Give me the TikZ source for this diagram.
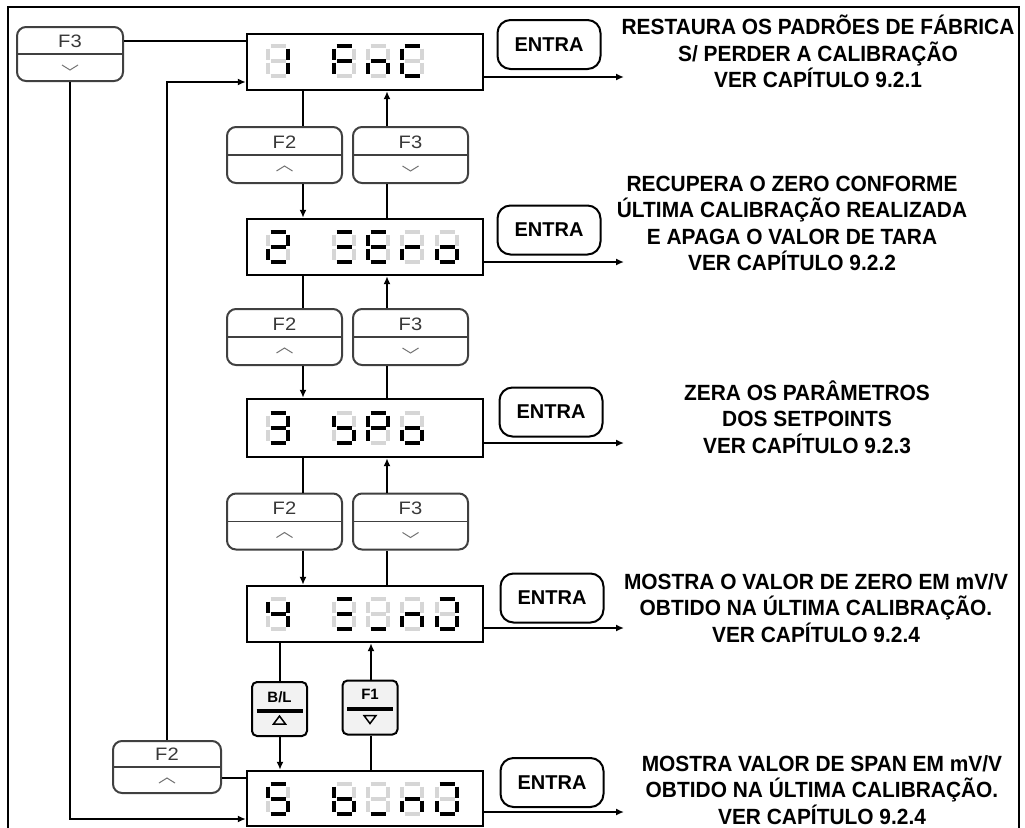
\documentclass[tikz,border=0pt]{standalone}
\usepackage{fontspec}
\setmainfont{Liberation Sans}
\newfontfamily\descfont[FakeStretch=0.95]{Liberation Sans}
\newfontfamily\labfont[FakeStretch=1.12]{Liberation Sans}
\usetikzlibrary{arrows.meta}
\tikzset{
  seg1/.style={draw=black,line width=3.2pt},
  seg0/.style={draw=black!16,line width=3.2pt},
  disp/.style={draw=black,line width=2.4pt,minimum width=236pt,minimum height=56pt,inner sep=0pt},
  fbtn/.style={draw=black!75,line width=2pt,rounded corners=9pt,minimum width=115pt,minimum height=56pt,inner sep=0pt},
  flab/.style={text=black!78,font=\labfont\fontsize{18}{18}\selectfont},
  chev/.style={draw=black!55,line width=1pt},
  kbtn/.style={draw=black,line width=2pt,rounded corners=5pt,fill=black!5,minimum width=55pt,minimum height=54pt,inner sep=0pt},
  klab/.style={font=\fontsize{15}{15}\selectfont\bfseries},
  entra/.style={draw=black,line width=2pt,rounded corners=13pt,minimum width=103pt,minimum height=49pt,inner sep=0pt,font=\fontsize{20}{24}\selectfont\bfseries},
  desc/.style={align=center,inner sep=0pt,font=\descfont\fontsize{22}{26.5}\selectfont\bfseries},
  conn/.style={line width=2pt},
  arr/.style={line width=2pt,-{Latex[length=8pt,width=7pt]}}
}
% seven segment digit: x y a b c d e f g
\newcommand\segdig[9]{%
  \begin{scope}[shift={(#1,#2)}]
    \draw[seg#3] (3.5,0)--(18.5,0);
    \draw[seg#4] (21,2.5)--(21,13.5);
    \draw[seg#5] (21,16.5)--(21,27.5);
    \draw[seg#6] (3.5,30)--(18.5,30);
    \draw[seg#7] (1,16.5)--(1,27.5);
    \draw[seg#8] (1,2.5)--(1,13.5);
    \draw[seg#9] (3.5,15)--(18.5,15);
  \end{scope}}
% F button decoration: name, label, u/d
\newcommand\fbutton[3]{%
  \draw[line width=1.4pt,draw=black!75] (#1.west) -- (#1.east);
  \node[flab] at ([yshift=13pt]#1.center) {#2};
  \if u#3
    \draw[chev] ([shift={(-8,16)}]#1.center) -- ++(8,-5) -- ++(8,5);
  \else
    \draw[chev] ([shift={(-8,11)}]#1.center) -- ++(8,5) -- ++(8,-5);
  \fi}
\begin{document}
\begin{tikzpicture}[x=1pt,y=-1pt]
\useasboundingbox (0,0) rectangle (1025,827);
\fill[white] (0,0) rectangle (1025,827);
% frame
\draw[line width=1.6pt] (8,840) -- (8,7) -- (1019,7) -- (1019,840);

% helper coordinates
\coordinate (L) at (303,0);
\coordinate (R) at (387,0);
\coordinate (L2) at (280,0);
\coordinate (R2) at (371,0);
\coordinate (h41) at (0,41);
\coordinate (h82) at (0,82);
\coordinate (h778) at (0,778);
\coordinate (h819) at (0,819);

% displays
\node[disp] (d1) at (365,62) {};
\node[disp] (d2) at (365,247) {};
\node[disp,minimum height=58pt] (d3) at (365,428) {};
\node[disp] (d4) at (365,614) {};
\node[disp,minimum height=55pt] (d5) at (365,798.5) {};

% digits display 1: "1 FnC"
\segdig{267}{46}0110000
\segdig{333}{46}1000111
\segdig{367}{46}0010101
\segdig{401}{46}1001110
% display 2: "2 ZEro"
\segdig{267}{232}1101101
\segdig{333}{232}1001001
\segdig{367}{232}1001111
\segdig{401}{232}0000101
\segdig{436}{232}0011101
% display 3: "3 SPo"
\segdig{267}{413}1111001
\segdig{333}{413}0011011
\segdig{367}{413}1100111
\segdig{401}{413}0011101
% display 4
\segdig{267}{599}0110011
\segdig{333}{599}1001001
\segdig{367}{599}0001000
\segdig{401}{599}0010101
\segdig{436}{599}1111100
% display 5
\segdig{267}{784}1011011
\segdig{333}{784}0011111
\segdig{367}{784}0001000
\segdig{401}{784}0010101
\segdig{436}{784}1111100

% F2/F3 button pairs
\node[fbtn] (p1l) at (284.5,155) {};
\node[fbtn] (p1r) at (410.5,155) {};
\node[fbtn] (p2l) at (284.5,337) {};
\node[fbtn] (p2r) at (410.5,337) {};
\node[fbtn] (p3l) at (284.5,521.5) {};
\node[fbtn] (p3r) at (410.5,521.5) {};
\fbutton{p1l}{F2}{u}
\fbutton{p1r}{F3}{d}
\fbutton{p2l}{F2}{u}
\fbutton{p2r}{F3}{d}
\fbutton{p3l}{F2}{u}
\fbutton{p3r}{F3}{d}

% outer buttons
\node[fbtn,minimum width=106pt,minimum height=54pt] (F3t) at (70,54) {};
\fbutton{F3t}{F3}{d}
\node[fbtn,minimum width=108pt,minimum height=52pt] (F2b) at (167,767) {};
\fbutton{F2b}{F2}{u}

% B/L and F1 keys
\node[kbtn] (BL) at (279.5,709) {};
\node[klab] at ([yshift=12pt]BL.center) {B/L};
\draw[line width=3.2pt] ([shift={(-23,2)}]BL.center) -- ([shift={(23,2)}]BL.center);
\draw[line width=1.5pt,line join=miter] ([shift={(-6,15)}]BL.center) -- ([shift={(6,15)}]BL.center) -- ([shift={(0,7)}]BL.center) -- cycle;
\node[kbtn] (F1) at (370,707.5) {};
\node[klab] at ([yshift=13.5pt]F1.center) {F1};
\draw[line width=3.2pt] ([shift={(-23,1.5)}]F1.center) -- ([shift={(23,1.5)}]F1.center);
\draw[line width=1.5pt,line join=miter] ([shift={(-6,8)}]F1.center) -- ([shift={(6,8)}]F1.center) -- ([shift={(0,16)}]F1.center) -- cycle;

% ENTRA buttons
\node[entra] (e1) at (549,44.5) {ENTRA};
\node[entra] (e2) at (549,230) {ENTRA};
\node[entra] (e3) at (551,412) {ENTRA};
\node[entra] (e4) at (552,598) {ENTRA};
\node[entra] (e5) at (552,782.5) {ENTRA};

% outer connectors
\draw[conn] (F3t.east |- h41) -- (d1.west |- h41);
\draw[arr] (F3t.south) -- (F3t.south |- h819) -- (d5.west |- h819);
\draw[arr] (F2b.north) -- (F2b.north |- h82) -- (d1.west |- h82);
\draw[conn] (F2b.east |- h778) -- (d5.west |- h778);

% vertical connectors
\draw[conn] (d1.south -| L) -- (p1l.north -| L);
\draw[arr] (p1l.south -| L) -- (d2.north -| L);
\draw[arr] (p1r.north -| R) -- (d1.south -| R);
\draw[conn] (d2.north -| R) -- (p1r.south -| R);
\draw[conn] (d2.south -| L) -- (p2l.north -| L);
\draw[arr] (p2l.south -| L) -- (d3.north -| L);
\draw[arr] (p2r.north -| R) -- (d2.south -| R);
\draw[conn] (d3.north -| R) -- (p2r.south -| R);
\draw[conn] (d3.south -| L) -- (p3l.north -| L);
\draw[arr] (p3l.south -| L) -- (d4.north -| L);
\draw[arr] (p3r.north -| R) -- (d3.south -| R);
\draw[conn] (d4.north -| R) -- (p3r.south -| R);
\draw[conn] (d4.south -| L2) -- (BL.north -| L2);
\draw[arr] (BL.south -| L2) -- (d5.north -| L2);
\draw[arr] (F1.north -| R2) -- (d4.south -| R2);
\draw[conn] (d5.north -| R2) -- (F1.south -| R2);

% output arrows
\coordinate (o1) at (624,77);
\coordinate (o2) at (624,262);
\coordinate (o3) at (624,443);
\coordinate (o4) at (624,628);
\coordinate (o5) at (624,812);
\draw[arr] (d1.east |- o1) -- (o1);
\draw[arr] (d2.east |- o2) -- (o2);
\draw[arr] (d3.east |- o3) -- (o3);
\draw[arr] (d4.east |- o4) -- (o4);
\draw[arr] (d5.east |- o5) -- (o5);

% descriptions
\node[desc] (t1) at (818,51.5) {RESTAURA OS PADRÕES DE FÁBRICA\\S/ PERDER A CALIBRAÇÃO\\VER CAPÍTULO 9.2.1};
\node[desc] (t2) at (792,223.5) {RECUPERA O ZERO CONFORME\\ÚLTIMA CALIBRAÇÃO REALIZADA\\E APAGA O VALOR DE TARA\\VER CAPÍTULO 9.2.2};
\node[desc] (t3) at (807,417) {ZERA OS PARÂMETROS\\DOS SETPOINTS\\VER CAPÍTULO 9.2.3};
\node[desc] (t4) at (816,608) {MOSTRA O VALOR DE ZERO EM mV/V\\OBTIDO NA ÚLTIMA CALIBRAÇÃO.\\VER CAPÍTULO 9.2.4};
\node[desc] (t5) at (822,790) {MOSTRA VALOR DE SPAN EM mV/V\\OBTIDO NA ÚLTIMA CALIBRAÇÃO.\\VER CAPÍTULO 9.2.4};
\end{tikzpicture}
\end{document}
